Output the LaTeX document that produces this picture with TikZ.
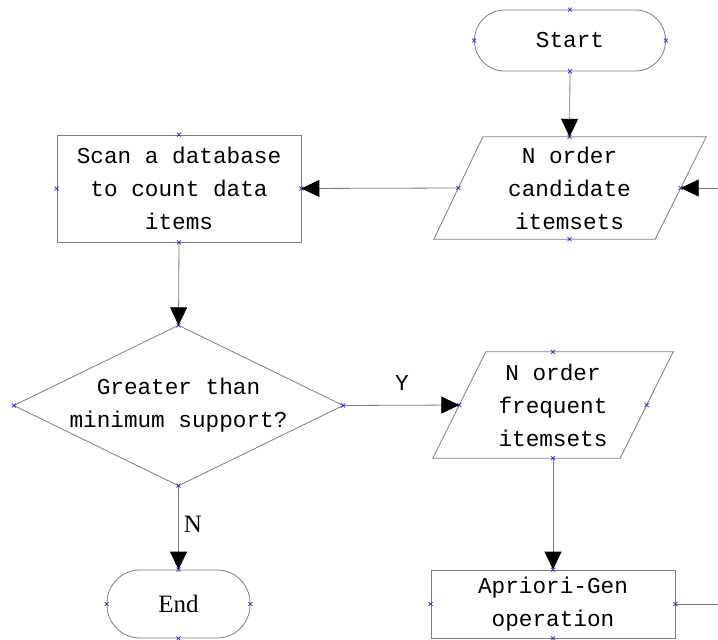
\documentclass[tikz,border=0pt]{standalone}
\usepackage{fontspec}
\setmainfont{Liberation Mono}
\newfontfamily\serf{Liberation Serif}
\usetikzlibrary{arrows.meta,calc}
\definecolor{edgecol}{RGB}{125,125,125}
\definecolor{cpblue}{RGB}{40,40,235}
\newcommand\cpx[1]{\draw[cpblue,line width=0.7pt] (#1) ++(-2,-2) -- ++(4,4) (#1) ++(-2,2) -- ++(4,-4);}
\begin{document}
\begin{tikzpicture}[x=1pt,y=-1pt,
  txt/.style={inner sep=0pt, align=center, font=\fontsize{22.7}{33}\selectfont},
  box/.style={txt, draw=edgecol, line width=0.8pt},
  outline/.style={draw=edgecol, line width=0.8pt},
  conn/.style={draw=edgecol, line width=0.8pt, -{Triangle[length=18pt,width=17pt,color=black]}},
  plain/.style={draw=edgecol, line width=0.8pt}]
\useasboundingbox (0,0) rectangle (718,640);
% nodes
\node[box, rounded corners=30pt, minimum width=191pt, minimum height=61pt] (start) at (570,40.5) {Start};
\node[txt, minimum width=222pt, minimum height=102pt] (cand) at (569.5,188) {N order\\candidate\\itemsets};
\draw[outline] ($(cand.north west)+(24.5,0)$) -- ($(cand.north east)+(25.5,0)$) -- ($(cand.south east)+(-25.5,0)$) -- ($(cand.south west)+(-24.5,0)$) -- cycle;
\node[box, minimum width=244pt, minimum height=107pt] (scan) at (179,188.5) {Scan a database\\to count data\\items};
\node[txt, minimum width=329pt, minimum height=160pt] (dia) at (178.5,405.5) {Greater than\\minimum support?};
\draw[outline] (dia.north) -- (dia.east) -- (dia.south) -- (dia.west) -- cycle;
\node[txt, minimum width=187pt, minimum height=106pt] (freq) at (553,405) {N order\\frequent\\itemsets};
\draw[outline] ($(freq.north west)+(26.5,0)$) -- ($(freq.north east)+(26.5,0)$) -- ($(freq.south east)+(-26.5,0)$) -- ($(freq.south west)+(-26.5,0)$) -- cycle;
\node[box, minimum width=244pt, minimum height=68pt] (apr) at (553,604) {Apriori-Gen\\operation};
\node[box, font=\serf\fontsize{25}{25}\selectfont, rounded corners=33pt, minimum width=143pt, minimum height=68pt] (end) at (178.5,604) {End};
\coordinate (inR) at (718,188);
\coordinate (outR) at (718,604);
% connectors
\draw[conn] (start.south) -- (cand.north);
\draw[conn] (inR) -- (cand.east);
\draw[conn] (cand.west) -- (scan.east);
\draw[conn] (scan.south) -- (dia.north);
\draw[conn] (dia.east) -- (freq.west);
\draw[conn] (dia.south) -- (end.north);
\draw[conn] (freq.south) -- (apr.north);
\draw[plain] (apr.east) -- (outR);
\node[txt, font=\fontsize{22.7}{22.7}\selectfont] (ylab) at (402,383) {Y};
\node[txt, font=\serf\fontsize{25}{25}\selectfont] (nlab) at (193,524) {N};
% connection point markers
\foreach \n in {start,scan,apr,end}{
  \cpx{\n.north}\cpx{\n.south}\cpx{\n.east}\cpx{\n.west}}
\foreach \n in {cand,freq,dia}{
  \cpx{\n.north}\cpx{\n.south}\cpx{\n.east}\cpx{\n.west}}
\end{tikzpicture}
\end{document}
